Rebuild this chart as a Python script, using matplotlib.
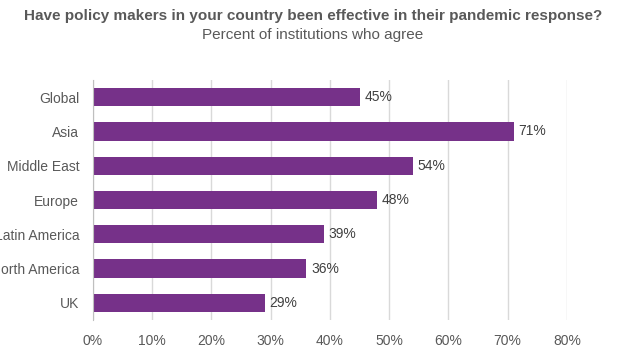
import matplotlib.pyplot as plt
from matplotlib.ticker import FuncFormatter

plt.rcParams['font.family'] = ['Liberation Sans', 'DejaVu Sans']

regions = ["Global", "Asia", "Middle East", "Europe", "Latin America", "North America", "UK"]
agree_pct = [45, 71, 54, 48, 39, 36, 29]
x_ticks = [0, 10, 20, 30, 40, 50, 60, 70, 80]

BAR = "#763189"
TXT = "#595959"

fig = plt.figure(figsize=(6.26, 3.62), dpi=100)
ax = fig.add_axes([0.1486, 0.116, 0.757, 0.663])

ypos = list(range(len(regions)))
ax.barh(ypos, agree_pct, height=0.53, color=BAR, zorder=3)
for y, v in zip(ypos, agree_pct):
    ax.text(v + 0.8, y, f"{v}%", va="center", ha="left", fontsize=10, color="#404040")

ax.set_yticks(ypos)
ax.set_yticklabels(regions)
ax.set_ylim(len(regions) - 0.5, -0.5)
ax.set_xlim(0, 80)
ax.set_xticks(x_ticks)
ax.xaxis.set_major_formatter(FuncFormatter(lambda v, p: f"{v:.0f}%"))
ax.tick_params(axis="y", length=0, pad=10, labelsize=10, labelcolor=TXT)
ax.tick_params(axis="x", length=0, pad=10, labelsize=10, labelcolor=TXT)
ax.grid(axis="x", color="#d9d9d9", linewidth=1, zorder=0)
for s in ["top", "right", "bottom"]:
    ax.spines[s].set_visible(False)
ax.spines["left"].set_color("#bfbfbf")
ax.spines["left"].set_zorder(4)

fig.text(0.5, 0.955, "Have policy makers in your country been effective in their pandemic response?",
         ha="center", va="center", fontsize=11, fontweight="bold", color=TXT)
fig.text(0.5, 0.903, "Percent of institutions who agree", ha="center", va="center",
         fontsize=11, color=TXT)

fig.savefig("out.png", dpi=100)
